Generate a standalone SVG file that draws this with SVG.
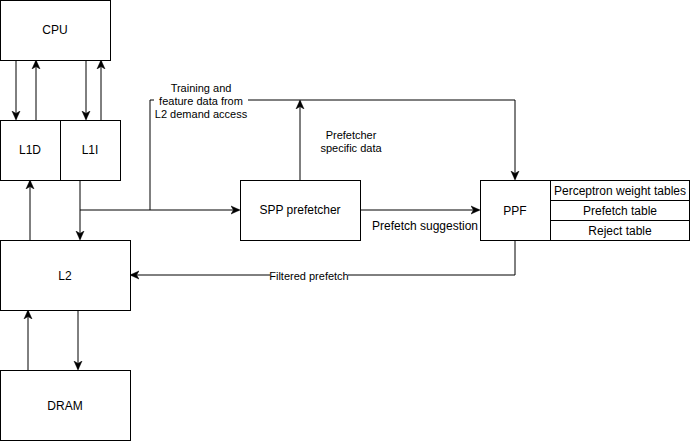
<svg xmlns="http://www.w3.org/2000/svg" width="691" height="441" viewBox="0 0 691 441">
  <style>
    .box { fill: #ffffff; stroke: #000000; stroke-width: 1; }
    .lbl { font-family: "Liberation Sans", Arial, Helvetica, sans-serif; font-size: 12px; fill: #000000; text-anchor: middle; dominant-baseline: central; }
    .lbl-sm { font-family: "Liberation Sans", Arial, Helvetica, sans-serif; font-size: 11px; fill: #000000; text-anchor: middle; dominant-baseline: central; }
    .edge { fill: none; stroke: #000000; stroke-width: 1; }
    .arr { marker-end: url(#arrow); }
  </style>
  <defs>
    <marker id="arrow" viewBox="0 0 10 10" refX="8" refY="5" markerWidth="10" markerHeight="10" markerUnits="userSpaceOnUse" orient="auto">
      <path d="M 0 1 L 9 5 L 0 9 L 2.5 5 Z" fill="#000000" stroke="#000000" stroke-width="0.5"/>
    </marker>
  </defs>

  <rect width="691" height="441" fill="#ffffff"/>

  <!-- connectors -->
  <g id="connectors">
    <path class="edge arr" d="M 16 60 L 16 119"/>
    <path class="edge arr" d="M 36 120 L 36 61"/>
    <path class="edge arr" d="M 86 60 L 86 119"/>
    <path class="edge arr" d="M 101 120 L 101 61"/>
    <path class="edge arr" d="M 30 240 L 30 181"/>
    <path class="edge arr" d="M 80 180 L 80 239"/>
    <path class="edge arr" d="M 80 210 L 239 210"/>
    <path class="edge arr" d="M 150 210 L 150 100 L 515 100 L 515 179"/>
    <path class="edge arr" d="M 300 180 L 300 101"/>
    <path class="edge arr" d="M 360 210 L 479 210"/>
    <path class="edge arr" d="M 515 240 L 515 275 L 131 275"/>
    <path class="edge arr" d="M 78 310 L 78 369"/>
    <path class="edge arr" d="M 28 370 L 28 311"/>

    <!-- edge labels -->
    <rect x="154" y="81" width="94" height="40" fill="#ffffff"/>
    <text class="lbl-sm" x="201" y="88">Training and</text>
    <text class="lbl-sm" x="201" y="101">feature data from</text>
    <text class="lbl-sm" x="201" y="114">L2 demand access</text>

    <text class="lbl-sm" x="351" y="135">Prefetcher</text>
    <text class="lbl-sm" x="351" y="148">specific data</text>

    <text class="lbl" x="425" y="226">Prefetch suggestion</text>

    <rect x="270" y="269" width="78" height="14" fill="#ffffff"/>
    <text class="lbl-sm" x="309" y="276">Filtered prefetch</text>
  </g>

  <!-- nodes -->
  <g id="cpu">
    <rect class="box" x="0.5" y="0.5" width="110" height="60"/>
    <text class="lbl" x="55" y="30">CPU</text>
  </g>
  <g id="l1d">
    <rect class="box" x="0.5" y="120.5" width="60" height="60"/>
    <text class="lbl" x="30" y="150">L1D</text>
  </g>
  <g id="l1i">
    <rect class="box" x="60.5" y="120.5" width="60" height="60"/>
    <text class="lbl" x="90" y="150">L1I</text>
  </g>
  <g id="l2">
    <rect class="box" x="0.5" y="240.5" width="130" height="70"/>
    <text class="lbl" x="65" y="276">L2</text>
  </g>
  <g id="dram">
    <rect class="box" x="0.5" y="370.5" width="130" height="70"/>
    <text class="lbl" x="65" y="406">DRAM</text>
  </g>
  <g id="spp">
    <rect class="box" x="240.5" y="180.5" width="120" height="60"/>
    <text class="lbl" x="300" y="210">SPP prefetcher</text>
  </g>
  <g id="ppf">
    <rect class="box" x="480.5" y="180.5" width="70" height="60"/>
    <text class="lbl" x="515" y="211">PPF</text>
  </g>
  <g id="ppf-tables">
    <rect class="box" x="550.5" y="180.5" width="139" height="20"/>
    <text class="lbl" x="620" y="190.5">Perceptron weight tables</text>
    <rect class="box" x="550.5" y="200.5" width="139" height="20"/>
    <text class="lbl" x="620" y="210.5">Prefetch table</text>
    <rect class="box" x="550.5" y="220.5" width="139" height="20"/>
    <text class="lbl" x="620" y="230.5">Reject table</text>
  </g>
</svg>
